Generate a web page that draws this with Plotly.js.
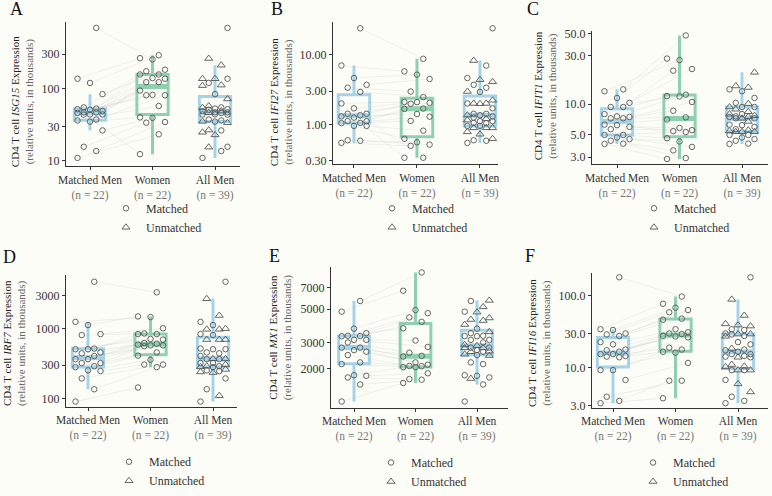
<!DOCTYPE html>
<html><head><meta charset="utf-8">
<script src="https://cdn.plot.ly/plotly-3.0.1.min.js"></script>
<style>html,body{margin:0;padding:0;background:#fdfdf8}#chart{width:772px;height:496px}</style>
</head><body><div id="chart"></div>
<script>
// ---------------- data ----------------
const categories = ['Matched Men', 'Women', 'All Men'];
const groupSizes = ['(n = 22)', '(n = 22)', '(n = 39)'];
const legendNames = ['Matched', 'Unmatched'];
const genes = ['ISG15', 'IFI27', 'IFIT1', 'IRF7', 'MX1', 'IFI16'];
const panelLetters = ['A', 'B', 'C', 'D', 'E', 'F'];

// A: ISG15
const isg15_matchedMen = [692, 137, 120, 84, 53, 55, 51, 43.7, 44, 49, 44, 46.9, 47, 46, 37.4, 36.3, 35, 26.4, 15.7, 13.7, 11, 52];
const isg15_women = [254, 264, 290, 183, 174, 157, 157, 123, 123, 137, 140, 94, 82, 81, 81, 57.5, 40, 39.4, 33.8, 34.5, 23.4, 12.4];
const isg15_unmatchedMen = [261, 211, 137, 137, 112, 110, 72, 57.5, 54.6, 49, 35.2, 33.8, 24.9, 26.7, 22.9, 15.5, 46.4];
const isg15_tickVals = [10, 30, 100, 300];
const isg15_tickText = ['10', '30', '100', '300'];

// B: IFI27
const ifi27_matchedMen = [24.2, 7.03, 4.64, 3.71, 3.37, 2.93, 2.0, 1.70, 1.42, 1.42, 1.11, 1.11, 1.3, 1.04, 1.05, 0.95, 0.95, 0.59, 0.58, 0.54, 1.25, 1.35];
const ifi27_women = [8.8, 5.8, 5.2, 4.5, 2.97, 2.47, 2.1, 2.09, 2.04, 1.98, 1.69, 1.67, 1.41, 1.29, 1.12, 0.81, 0.62, 0.55, 0.51, 0.49, 0.33, 0.33];
const ifi27_unmatchedMen = [8.3, 4.4, 4.1, 2.97, 2.22, 2.0, 2.0, 1.98, 1.36, 1.2, 1.15, 0.89, 0.89, 0.89, 0.78, 0.72, 0.62];
const ifi27_tickVals = [0.3, 1, 3, 10, 30];
const ifi27_tickText = ['0.30', '1.00', '3.00', '10.00', '30.00'];

// C: IFIT1
const ifit1_matchedMen = [14.0, 13.4, 11.5, 10.3, 9.36, 9.36, 7.97, 7.57, 7.46, 7.24, 7.24, 6.27, 5.96, 5.65, 6.2, 4.96, 4.96, 4.51, 4.68, 4.35, 4.07, 4.04];
const ifit1_women = [47.7, 27.2, 28.2, 22.2, 21.4, 12.4, 12.0, 11.9, 10.5, 8.6, 7.4, 7.05, 5.82, 5.53, 5.41, 5.3, 4.6, 4.28, 3.78, 3.49, 2.93, 2.87];
const ifit1_unmatchedMen = [20.6, 15.1, 14.6, 10.1, 9.36, 8.9, 8.4, 7.69, 7.97, 7.24, 7.5, 6.74, 5.53, 5.41, 5.33, 5.33, 5.33];
const ifit1_tickVals = [3, 5, 10, 30, 50];
const ifit1_tickText = ['3.0', '5.0', '10.0', '30.0', '50.0'];

// D: IRF7
const irf7_matchedMen = [4710, 1250, 1125, 836, 809, 518, 507, 507, 456, 442, 405, 365, 365, 321, 321, 289, 280, 252, 246, 193, 135, 90];
const irf7_women = [3320, 1466, 1496, 1012, 853, 836, 836, 713, 697, 621, 607, 590, 575, 575, 560, 456, 410, 357, 305, 305, 280, 143];
const irf7_unmatchedMen = [2685, 1545, 979, 979, 1000, 697, 697, 697, 369, 369, 305, 283, 260, 239, 234, 290, 109];
const irf7_tickVals = [100, 300, 1000, 3000];
const irf7_tickText = ['100', '300', '1000', '3000'];

// E: MX1
const mx1_matchedMen = [5680, 4820, 3710, 3460, 3325, 3310, 3300, 3120, 3120, 3000, 2770, 2770, 2667, 2600, 2470, 2206, 2150, 1811, 1794, 1750, 1570, 1208];
const mx1_women = [8820, 6650, 4940, 4710, 4410, 4120, 3730, 3090, 2800, 2560, 2440, 2415, 2206, 2130, 2090, 2080, 2050, 2050, 1866, 1706, 1690, 1606];
const mx1_unmatchedMen = [5730, 5190, 4780, 4370, 4270, 4200, 3950, 3530, 2900, 2850, 2760, 2760, 2620, 2600, 2500, 2450, 1720];
const mx1_tickVals = [2000, 3000, 5000, 7000];
const mx1_tickText = ['2000', '3000', '5000', '7000'];

// F: IFI16
const ifi16_matchedMen = [179, 34.2, 33.4, 29.9, 29, 27.6, 22.7, 21.1, 17.9, 17.5, 16.7, 15.5, 15.5, 14.6, 14.3, 14.0, 9.3, 9.3, 6.8, 3.98, 3.49, 3.24];
const ifi16_women = [97, 77, 67.8, 63, 58.7, 47.9, 46.4, 34.2, 31, 29.9, 29.3, 27.8, 27.2, 26.4, 19, 17.9, 16.7, 16.2, 11.7, 6.64, 6.64, 3.79];
const ifi16_unmatchedMen = [88.5, 53, 40.6, 39, 37.8, 29.3, 29.3, 27.3, 18.5, 14, 11.1, 10.5, 10.3, 9.3, 9.3, 6.0, 4.64];
const ifi16_tickVals = [3, 10, 30, 100];
const ifi16_tickText = ['3.0', '10.0', '30.0', '100.0'];

const panelData = [
  [isg15_matchedMen, isg15_women, isg15_unmatchedMen, isg15_tickVals, isg15_tickText],
  [ifi27_matchedMen, ifi27_women, ifi27_unmatchedMen, ifi27_tickVals, ifi27_tickText],
  [ifit1_matchedMen, ifit1_women, ifit1_unmatchedMen, ifit1_tickVals, ifit1_tickText],
  [irf7_matchedMen, irf7_women, irf7_unmatchedMen, irf7_tickVals, irf7_tickText],
  [mx1_matchedMen, mx1_women, mx1_unmatchedMen, mx1_tickVals, mx1_tickText],
  [ifi16_matchedMen, ifi16_women, ifi16_unmatchedMen, ifi16_tickVals, ifi16_tickText]
];

// ---------------- layout geometry (pixels) ----------------
const W = 772, H = 496;
const geom = [
  {x0: 66, x1: 240, yTop: 23, yBot: 172, xr: [-0.384, 2.4], yr: [0.933, 2.92], tx: 22, ty: 106, lx: 16, ly: 9, gx: 130, gy: 226},
  {x0: 333, x1: 498, yTop: 23, yBot: 170, xr: [-0.333, 2.286], yr: [-0.569, 1.472], tx: 281, ty: 106, lx: 277, ly: 9, gx: 396, gy: 226},
  {x0: 592, x1: 768, yTop: 32, yBot: 170, xr: [-0.4, 2.416], yr: [0.41, 1.724], tx: 545, ty: 100, lx: 533, ly: 9, gx: 658, gy: 226},
  {x0: 66, x1: 237, yTop: 285, yBot: 422, xr: [-0.352, 2.384], yr: [1.88, 3.775], tx: 14, ty: 356, lx: 9, ly: 267, gx: 133, gy: 489},
  {x0: 331, x1: 508, yTop: 277, yBot: 423, xr: [-0.374, 2.504], yr: [3.041, 3.982], tx: 280, ty: 350, lx: 274, ly: 266, gx: 395, gy: 490},
  {x0: 592, x1: 768, yTop: 283, yBot: 423, xr: [-0.336, 2.48], yr: [0.449, 2.316], tx: 539, ty: 356, lx: 530, ly: 266, gx: 657, gy: 490}
];

const BLUE = '#a5d4e8', GREEN = '#8fd0af', PT = '#555555';
const FONT = 'Liberation Serif';
const JSTEPS = [-0.2, 0.1, -0.1, 0.2, 0];

function jitter(vals) {
  const idx = vals.map((v, i) => i).sort((a, b) => vals[a] - vals[b]);
  const off = new Array(vals.length);
  idx.forEach((k, r) => { off[k] = JSTEPS[r % JSTEPS.length]; });
  return off;
}
function quant(s, p) {
  const h = (s.length - 1) * p, lo = Math.floor(h), hi = Math.min(lo + 1, s.length - 1);
  return s[lo] + (h - lo) * (s[hi] - s[lo]);
}
function boxStats(vals) {
  const L = vals.map(Math.log10).sort((a, b) => a - b);
  const q1 = quant(L, 0.25), med = quant(L, 0.5), q3 = quant(L, 0.75);
  const iqr = q3 - q1, lo = q1 - 1.5 * iqr, hi = q3 + 1.5 * iqr;
  const lf = Math.min(...L.filter(v => v >= lo)), uf = Math.max(...L.filter(v => v <= hi));
  return {q1: 10 ** q1, med: 10 ** med, q3: 10 ** q3, lf: 10 ** lf, uf: 10 ** uf};
}

const traces = [];
const layout = {
  width: W, height: H, margin: {l: 0, r: 0, t: 0, b: 0},
  paper_bgcolor: '#fdfdf8', plot_bgcolor: '#fdfdf8',
  font: {family: FONT, size: 11, color: '#333'},
  showlegend: true, annotations: []
};

panelData.forEach((pd, p) => {
  const [mm, wo, um, tv, tt] = pd;
  const g = geom[p];
  const sfx = p === 0 ? '' : String(p + 1);
  const xa = 'x' + sfx, ya = 'y' + sfx;
  const leg = 'legend' + sfx;

  const offMM = jitter(mm), offW = jitter(wo);
  const allVals = mm.concat(um);
  const offAll = jitter(allVals);

  // pair lines
  const lx = [], ly = [];
  mm.forEach((v, i) => {
    if (i < wo.length) { lx.push(0 + offMM[i], 1 + offW[i], null); ly.push(v, wo[i], null); }
  });
  traces.push({type: 'scatter', mode: 'lines', x: lx, y: ly, xaxis: xa, yaxis: ya,
    line: {color: 'rgba(170,170,170,0.35)', width: 0.5}, showlegend: false, hoverinfo: 'skip'});

  // boxes
  const groups = [mm, wo, allVals];
  const cols = [BLUE, GREEN, BLUE];
  groups.forEach((vals, gi) => {
    const s = boxStats(vals);
    traces.push({type: 'box', orientation: 'v', x: [gi], q1: [s.q1], median: [s.med], q3: [s.q3],
      lowerfence: [s.lf], upperfence: [s.uf], width: 0.5, whiskerwidth: 0, boxpoints: false,
      line: {color: cols[gi], width: 3}, fillcolor: 'rgba(0,0,0,0)', xaxis: xa, yaxis: ya,
      showlegend: false, hoverinfo: 'skip'});
    traces.push({type: 'scatter', mode: 'lines', x: [gi - 0.25, gi + 0.25], y: [s.med, s.med],
      xaxis: xa, yaxis: ya, line: {color: cols[gi], width: 5}, showlegend: false, hoverinfo: 'skip'});
  });

  // matched circles (matched men, women, matched men within all men)
  const cx = [], cy = [];
  mm.forEach((v, i) => { cx.push(0 + offMM[i]); cy.push(v); });
  wo.forEach((v, i) => { cx.push(1 + offW[i]); cy.push(v); });
  mm.forEach((v, i) => { cx.push(2 + offAll[i]); cy.push(v); });
  traces.push({type: 'scatter', mode: 'markers', name: legendNames[0], x: cx, y: cy, xaxis: xa, yaxis: ya,
    legend: leg, marker: {symbol: 'circle-open', size: 5.5, color: PT, line: {width: 0.9, color: PT}}, hoverinfo: 'skip'});
  // unmatched triangles (all men only)
  const tx = [], ty = [];
  um.forEach((v, i) => { tx.push(2 + offAll[mm.length + i]); ty.push(v); });
  traces.push({type: 'scatter', mode: 'markers', name: legendNames[1], x: tx, y: ty, xaxis: xa, yaxis: ya,
    legend: leg, marker: {symbol: 'triangle-up-open', size: 7, color: PT, line: {width: 0.9, color: PT}}, hoverinfo: 'skip'});

  layout['xaxis' + sfx] = {
    domain: [g.x0 / W, g.x1 / W], anchor: ya, range: g.xr, showgrid: false, zeroline: false,
    showline: true, linecolor: '#333', linewidth: 1, ticks: 'outside', ticklen: 3, tickcolor: '#333',
    tickvals: [0, 1, 2],
    ticktext: categories.map((c, i) => c + '<br><span style="color:#777">' + groupSizes[i] + '</span>'),
    tickfont: {family: FONT, size: 11.5, color: '#333'}, fixedrange: true
  };
  layout['yaxis' + sfx] = {
    domain: [1 - g.yBot / H, 1 - g.yTop / H], anchor: xa, type: 'log', range: g.yr,
    showgrid: false, zeroline: false, showline: true, linecolor: '#333', linewidth: 1,
    ticks: 'outside', ticklen: 3, tickcolor: '#333', tickvals: tv, ticktext: tt,
    tickfont: {family: FONT, size: 12, color: '#333'}, fixedrange: true
  };
  layout[leg] = {
    x: (g.gx - 24) / W, y: 1 - g.gy / H, xanchor: 'left', yanchor: 'middle',
    bgcolor: 'rgba(0,0,0,0)', font: {family: FONT, size: 12, color: '#333'},
    tracegroupgap: 0, itemwidth: 30
  };
  layout.annotations.push({
    xref: 'paper', yref: 'paper', x: g.tx / W, y: 1 - g.ty / H, xanchor: 'center', yanchor: 'middle',
    textangle: -90, showarrow: false, align: 'center',
    text: 'CD4 T cell <i>' + genes[p] + '</i> Expression<br><span style="color:#666">(relative units, in thousands)</span>',
    font: {family: FONT, size: 11, color: '#222'}
  });
  layout.annotations.push({
    xref: 'paper', yref: 'paper', x: g.lx / W, y: 1 - g.ly / H, xanchor: 'center', yanchor: 'middle',
    showarrow: false, text: panelLetters[p], font: {family: FONT, size: 18, color: '#111'}
  });
});

Plotly.newPlot('chart', traces, layout, {displayModeBar: false, staticPlot: true});
</script></body></html>
